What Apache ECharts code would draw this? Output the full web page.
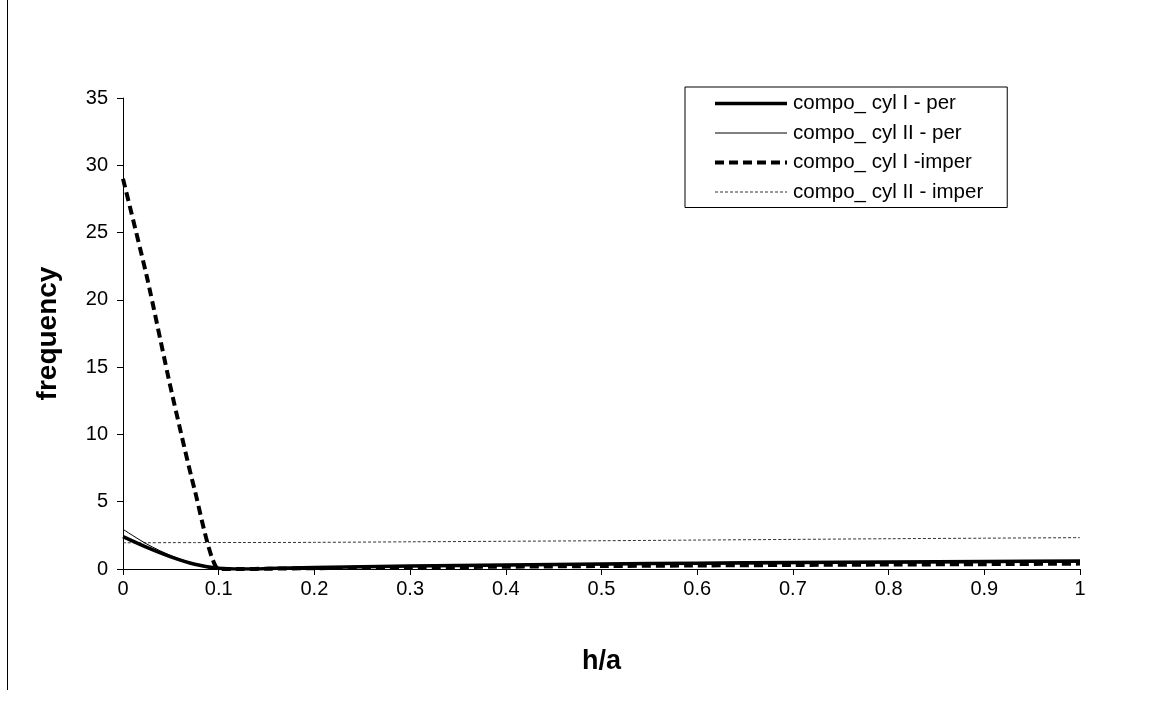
<!DOCTYPE html>
<html>
<head>
<meta charset="utf-8">
<script src="https://cdn.jsdelivr.net/npm/echarts@6/dist/echarts.min.js"></script>
<style>
html,body{margin:0;padding:0;background:#fff;}
#chart{width:1151px;height:705px;}
</style>
</head>
<body>
<div id="chart"></div>
<script>
// ---- data ----
var hA = [0, 0.025, 0.05, 0.075, 0.1, 0.125, 0.15, 0.2, 0.3, 0.4, 0.5, 0.6, 0.7, 0.8, 0.9, 1.0];
var cylIPer    = [2.4, 1.6, 0.9, 0.35, 0.05, 0.0, 0.03, 0.12, 0.22, 0.3, 0.37, 0.43, 0.48, 0.52, 0.56, 0.6];
var cylIIPer   = [2.95, 1.85, 1.0, 0.38, 0.04, 0.0, 0.02, 0.1, 0.18, 0.25, 0.31, 0.36, 0.4, 0.44, 0.47, 0.5];
var cylIImper  = [29.0, 21.7, 13.4, 5.85, 0.0, 0.0, 0.02, 0.06, 0.12, 0.17, 0.22, 0.26, 0.3, 0.33, 0.36, 0.4];
var cylIIImper = [1.95, 1.95, 1.96, 1.96, 1.97, 1.97, 1.97, 1.98, 2.02, 2.06, 2.1, 2.15, 2.2, 2.25, 2.29, 2.33];
var seriesNames = ['compo_ cyl I - per', 'compo_ cyl II - per', 'compo_ cyl I -imper', 'compo_ cyl II - imper'];
var yTicks = {min: 0, max: 35, interval: 5};
var xTicks = {min: 0, max: 1, interval: 0.1};

function pairs(ys) { return hA.map(function (x, i) { return [x, ys[i]]; }); }

var font = '"Liberation Sans", Arial, sans-serif';
var styles = [
  {color: '#000', width: 3.5, type: 'solid'},
  {color: '#000', width: 1, type: 'solid'},
  {color: '#000', width: 4, type: [9, 5]},
  {color: '#333', width: 1, type: [3, 2]}
];
var chart = echarts.init(document.getElementById('chart'), null, {renderer: 'canvas'});
chart.setOption({
  animation: false,
  backgroundColor: '#fff',
  textStyle: {fontFamily: font},
  graphic: [{
    type: 'line', shape: {x1: 7.5, y1: 0, x2: 7.5, y2: 690},
    style: {stroke: '#000', lineWidth: 1}
  }],
  grid: {left: 123, right: 71, top: 98, bottom: 136},
  legend: {
    orient: 'vertical', left: 685, top: 87,
    padding: [6, 24, 5, 28], itemGap: 8.5,
    itemWidth: 72, itemHeight: 14,
    borderColor: '#000', borderWidth: 1,
    itemStyle: {opacity: 0},
    textStyle: {fontFamily: font, fontSize: 20.5, color: '#000', padding: [0, 0, 0, 1]},
    data: seriesNames.map(function (n, i) {
      return {name: n, lineStyle: {width: styles[i].width, type: styles[i].type, color: styles[i].color}};
    })
  },
  xAxis: {
    type: 'value', min: xTicks.min, max: xTicks.max, interval: xTicks.interval,
    name: 'h/a', nameLocation: 'middle', nameGap: 79,
    nameTextStyle: {fontFamily: font, fontSize: 27, fontWeight: 'bold', color: '#000'},
    axisLine: {lineStyle: {color: '#000', width: 1}},
    axisTick: {show: true, inside: false, length: 6, lineStyle: {color: '#000'}},
    axisLabel: {fontFamily: font, fontSize: 20, color: '#000', margin: 10,
      formatter: function (v) { return String(Math.round(v * 10) / 10); }},
    splitLine: {show: false}
  },
  yAxis: {
    type: 'value', min: yTicks.min, max: yTicks.max, interval: yTicks.interval,
    name: 'frequency', nameLocation: 'middle', nameGap: 61, nameRotate: 90,
    nameTextStyle: {fontFamily: font, fontSize: 28, fontWeight: 'bold', color: '#000'},
    axisLine: {show: true, lineStyle: {color: '#000', width: 1}},
    axisTick: {show: true, inside: false, length: 6, lineStyle: {color: '#000'}},
    axisLabel: {fontFamily: font, fontSize: 20, color: '#000', margin: 15},
    splitLine: {show: false}
  },
  series: [
    {name: seriesNames[0], type: 'line', data: pairs(cylIPer), smooth: 0.3, symbol: 'none',
     lineStyle: styles[0], itemStyle: {color: '#000'}, z: 4},
    {name: seriesNames[1], type: 'line', data: pairs(cylIIPer), smooth: 0.3, symbol: 'none',
     lineStyle: styles[1], itemStyle: {color: '#000'}, z: 5},
    {name: seriesNames[2], type: 'line', data: pairs(cylIImper), smooth: 0.2, symbol: 'none',
     lineStyle: styles[2], itemStyle: {color: '#000'}, z: 3},
    {name: seriesNames[3], type: 'line', data: pairs(cylIIImper), smooth: 0.3, symbol: 'none',
     lineStyle: styles[3], itemStyle: {color: '#333'}, z: 2}
  ]
});
</script>
</body>
</html>
